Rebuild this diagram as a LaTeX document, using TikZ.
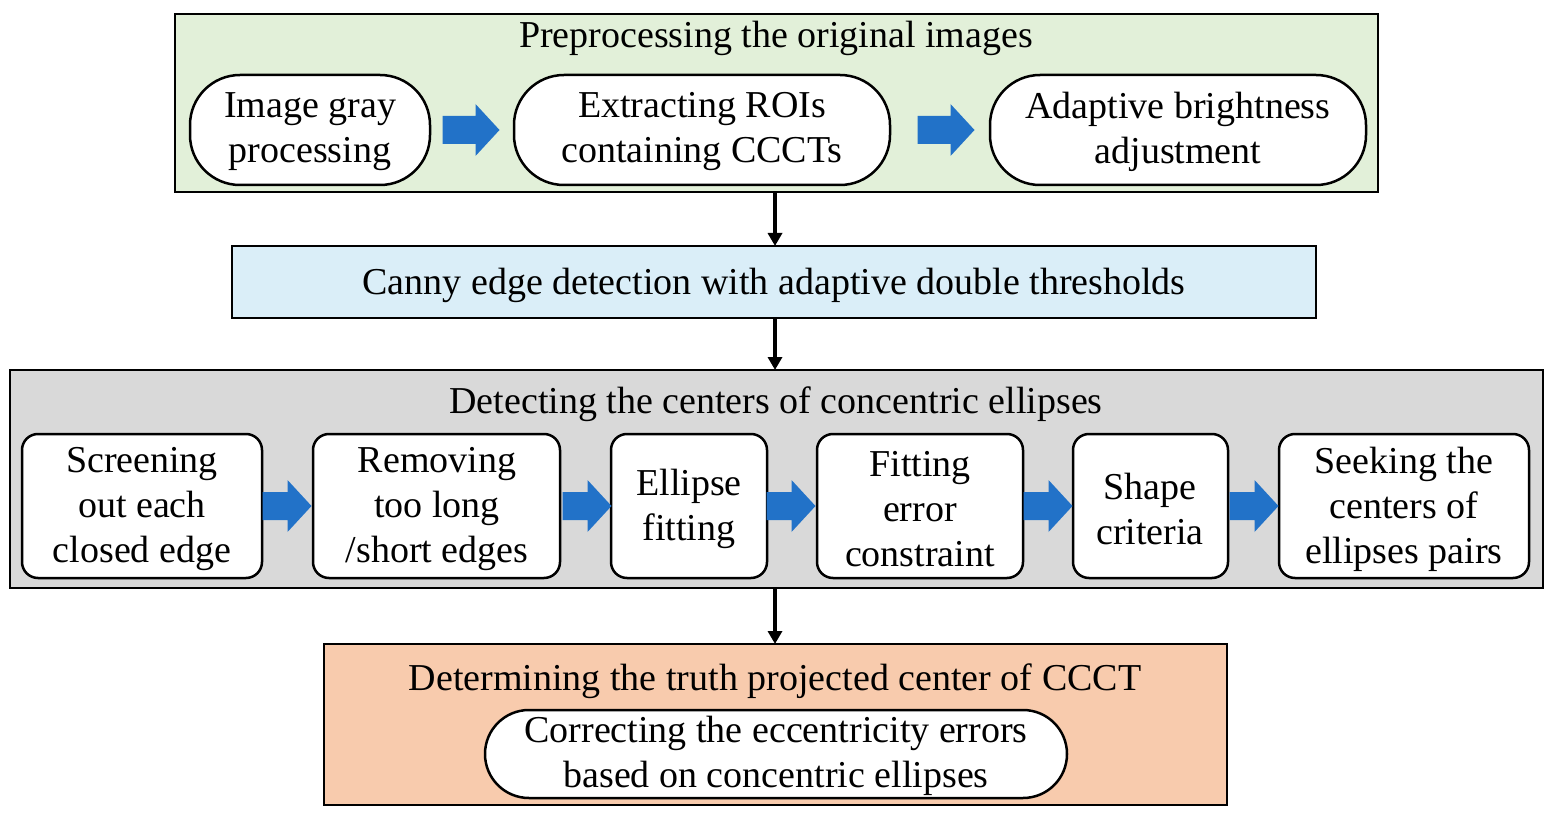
\documentclass[tikz,border=0pt]{standalone}
\usepackage{fontspec}
\setmainfont{Liberation Serif}
\usetikzlibrary{shapes.arrows,arrows.meta}
\definecolor{gfill}{HTML}{E2F0D9}
\definecolor{bfill}{HTML}{DAEEF8}
\definecolor{grfill}{HTML}{D9D9D9}
\definecolor{ofill}{HTML}{F8CBAD}
\definecolor{barrow}{HTML}{2272C8}
\begin{document}
\begin{tikzpicture}[x=1pt,y=-1pt,
  txt/.style={font=\fontsize{38}{45}\selectfont,align=center,inner sep=0},
  pill/.style={draw,line width=2.5pt,fill=white,rounded corners=50pt,txt},
  sbox/.style={draw,line width=2.5pt,fill=white,rounded corners=16pt,txt},
  frame/.style={draw,line width=2.5pt},
  karr/.style={line width=3.5pt,-{Triangle[length=13pt,width=14pt]}}]
\newcommand{\bluearrow}[3]{% center x, y, length
  \fill[barrow] ({#1-#3/2},{#2-14}) -- ({#1+#3/2-24},{#2-14}) -- ({#1+#3/2-24},{#2-26}) -- ({#1+#3/2},{#2}) -- ({#1+#3/2-24},{#2+26}) -- ({#1+#3/2-24},{#2+14}) -- ({#1-#3/2},{#2+14}) -- cycle;}
\useasboundingbox (0,0) rectangle (1553,813);
% green
\draw[frame,fill=gfill] (175,14) rectangle (1378,192);
\node[txt] (t1) at (776,38) {Preprocessing the original images};
\path[pill] (190,75) rectangle (430,185); \node[txt] (p1) at (310,132) {Image gray\\processing};
\path[pill] (514,75) rectangle (890,185); \node[txt] (p2) at (702,132) {Extracting ROIs\\containing CCCTs};
\path[pill] (990,75) rectangle (1366,185); \node[txt] (p3) at (1178,132) {Adaptive brightness\\adjustment};
\bluearrow{471}{130}{57}
\bluearrow{946}{130}{57}
\coordinate (g1) at (775,192);
% blue
\draw[frame,fill=bfill] (232,246) rectangle (1316,318);
\node[txt] (canny) at (774,285) {Canny edge detection with adaptive double thresholds};
\coordinate (b0) at (775,246); \coordinate (b1) at (775,318);
\draw[karr] (g1) -- (b0);
% gray
\draw[frame,fill=grfill] (10,370) rectangle (1543,588);
\coordinate (c0) at (775,370); \coordinate (c1) at (775,588);
\draw[karr] (b1) -- (c0);
\node[txt] (t3) at (776,404) {Detecting the centers of concentric ellipses};
\path[sbox] (22,434) rectangle (262,578); \node[txt] (s1) at (142,509) {Screening\\out each\\closed edge};
\path[sbox] (313,434) rectangle (560,578); \node[txt] (s2) at (437,509) {Removing\\too long\\/short edges};
\path[sbox] (611,434) rectangle (767,578); \node[txt] (s3) at (689,509) {Ellipse\\fitting};
\path[sbox] (817,434) rectangle (1023,578); \node[txt] (s4) at (920,509) {Fitting\\error\\constraint};
\path[sbox] (1073,434) rectangle (1228,578); \node[txt] (s5) at (1150,509) {Shape\\criteria};
\path[sbox] (1279,434) rectangle (1529,578); \node[txt] (s6) at (1404,509) {Seeking the\\centers of\\ellipses pairs};
\foreach \xx in {287,587,791,1048,1254} {\bluearrow{\xx}{506}{49}}
% orange
\draw[frame,fill=ofill] (324,644) rectangle (1227,805);
\coordinate (o0) at (775,644);
\draw[karr] (c1) -- (o0);
\node[txt] (t4) at (775,681) {Determining the truth projected center of CCCT};
\path[pill,rounded corners=44pt] (485,710) rectangle (1067,798); \node[txt] (p4) at (776,756) {Correcting the eccentricity errors\\based on concentric ellipses};
\end{tikzpicture}
\end{document}
